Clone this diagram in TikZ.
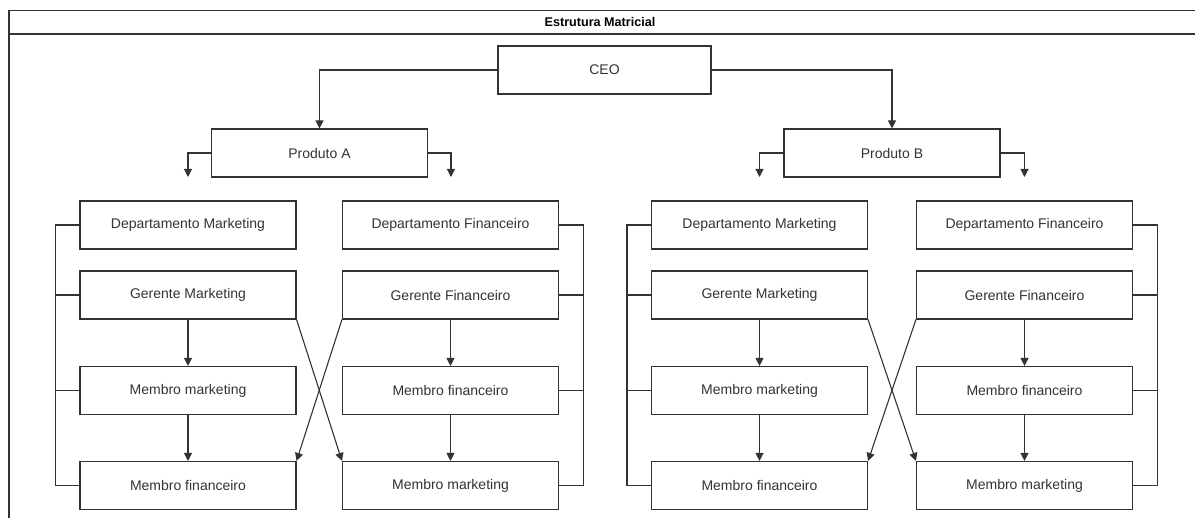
\documentclass[tikz,border=0pt]{standalone}
\usepackage{fontspec}
\setmainfont{Liberation Sans}
\usetikzlibrary{arrows.meta}
\definecolor{ln}{HTML}{333333}
\definecolor{tx}{HTML}{333333}
\begin{document}
\begin{tikzpicture}[x=1pt,y=-1pt,
  box/.style={draw=ln,line width=1.1pt,fill=white,minimum width=216pt,minimum height=48pt,inner sep=0pt,font=\fontsize{14}{16}\selectfont,text=tx},
  conn/.style={draw=ln,line width=1.1pt},
  arr/.style={conn,-{Triangle[length=8pt,width=8pt]}}]
\useasboundingbox (0,0) rectangle (1195,518);
\fill[white] (0,0) rectangle (1195,518);
% frame
\draw[conn] (9,518) -- (9,10.5) -- (1196,10.5);
\draw[conn] (9,34) -- (1196,34);
\node[font=\bfseries\fontsize{12.6}{14}\selectfont,text=black] (title) at (600,22) {Estrutura Matricial};
% top
\node[box,minimum width=213pt] (ceo) at (604.5,70) {CEO};
\node[box] (pa) at (319.5,153) {Produto A};
\node[box] (pb) at (892,153) {Produto B};
\draw[arr] (ceo.west) -| (pa.north);
\draw[arr] (ceo.east) -| (pb.north);
\coordinate (paL) at (188,177);
\coordinate (paR) at (451,177);
\coordinate (pbL) at (759.5,177);
\coordinate (pbR) at (1024.5,177);
\draw[arr] (pa.west) -| (paL);
\draw[arr] (pa.east) -| (paR);
\draw[arr] (pb.west) -| (pbL);
\draw[arr] (pb.east) -| (pbR);
% groups
\foreach \g/\lx/\rx in {A/188/450.5, B/759.5/1024.5}{
  \node[box] (dm\g) at (\lx,225) {Departamento Marketing};
  \node[box] (gm\g) at (\lx,295) {Gerente Marketing};
  \node[box] (mm\g) at (\lx,390.5) {Membro marketing};
  \node[box] (mf\g) at (\lx,485.5) {Membro financeiro};
  \node[box] (df\g) at (\rx,225) {Departamento Financeiro};
  \node[box] (gf\g) at (\rx,295) {Gerente Financeiro};
  \node[box] (mfr\g) at (\rx,390.5) {Membro financeiro};
  \node[box] (mmr\g) at (\rx,485.5) {Membro marketing};
  \draw[arr] (gm\g) -- (mm\g);
  \draw[arr] (mm\g) -- (mf\g);
  \draw[arr] (gf\g) -- (mfr\g);
  \draw[arr] (mfr\g) -- (mmr\g);
  \draw[arr] (gm\g.south east) -- (mmr\g.north west);
  \draw[arr] (gf\g.south west) -- (mf\g.north east);
  % brackets
  \draw[conn] (dm\g.west) -- ++(-24,0) |- (mf\g.west);
  \draw[conn] (gm\g.west) -- ++(-24,0);
  \draw[conn] (mm\g.west) -- ++(-24,0);
  \draw[conn] (df\g.east) -- ++(24,0) |- (mmr\g.east);
  \draw[conn] (gf\g.east) -- ++(24,0);
  \draw[conn] (mfr\g.east) -- ++(24,0);
}
\end{tikzpicture}
\end{document}
